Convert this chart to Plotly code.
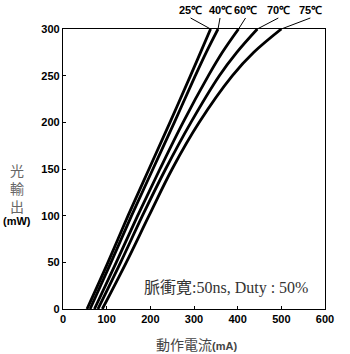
import plotly.graph_objects as go

power = [0, 50, 100, 150, 200, 250, 275, 300]
temps = ["25℃", "40℃", "60℃", "70℃", "75℃"]
currents = {
    "25℃": [55, 103, 149, 197, 245, 292, 315, 338],
    "40℃": [62, 110, 157, 206, 255, 303, 328, 355],
    "60℃": [72, 122, 171, 222, 275, 333, 365, 402],
    "70℃": [80, 132, 182, 235, 293, 358, 398, 445],
    "75℃": [90, 145, 197, 250, 312, 388, 437, 500],
}
label_offsets = {"25℃": (-20, -11), "40℃": (2, -11), "60℃": (7, -11), "70℃": (21, -11), "75℃": (29, -11)}
x_ticks = [0, 100, 200, 300, 400, 500, 600]
y_ticks = [0, 50, 100, 150, 200, 250, 300]

fig = go.Figure()
for t in temps:
    fig.add_trace(go.Scatter(x=currents[t], y=power, mode="lines",
                             line=dict(color="black", width=2.8, shape="spline", smoothing=1),
                             showlegend=False, cliponaxis=True))
    ax, ay = label_offsets[t]
    fig.add_annotation(x=currents[t][-1], y=power[-1], text=t, showarrow=True,
                       arrowhead=0, arrowwidth=1, arrowcolor="black", ax=ax, ay=ay,
                       yanchor="bottom", standoff=0,
                       font=dict(family="Liberation Sans", size=11, color="black", weight="bold"))

fig.add_annotation(xref="paper", yref="paper", x=-0.176, y=0.432, xanchor="center", yanchor="middle",
                   text="光<br>輸<br>出", showarrow=False, align="center",
                   font=dict(family="Noto Sans CJK JP", size=14, color="#666666"))
fig.add_annotation(xref="paper", yref="paper", x=-0.176, y=0.314, xanchor="center", yanchor="middle",
                   text="(mW)", showarrow=False,
                   font=dict(family="Liberation Sans", size=11, color="black", weight="bold"))
fig.add_annotation(xref="paper", yref="paper", x=0.51, y=-0.125, xanchor="center", yanchor="middle",
                   text="動作電流<b style='font-family:Liberation Sans;font-size:11px'>(mA)</b>", showarrow=False,
                   font=dict(family="Noto Sans CJK JP", size=14, color="#444444"))
fig.add_annotation(xref="paper", yref="paper", x=0.3, y=0.075, xanchor="left", yanchor="middle",
                   text="脈衝寛:50ns, Duty : 50%", showarrow=False,
                   font=dict(family="Liberation Serif, Noto Sans CJK JP", size=16, color="#333333"))

axis_common = dict(showgrid=False, zeroline=False, showline=True, linecolor="black", linewidth=1.2,
                   mirror=True, ticks="inside", ticklen=3, tickcolor="black",
                   tickfont=dict(family="Liberation Sans", size=11, color="black", weight="bold"))
fig.update_xaxes(range=[0, 600], tickvals=x_ticks, **axis_common)
fig.update_yaxes(range=[0, 300], tickvals=y_ticks, **axis_common)
fig.update_layout(width=350, height=354, margin=dict(l=63, r=25, t=29, b=45),
                  plot_bgcolor="white", paper_bgcolor="white")
fig.write_html("out.html")
